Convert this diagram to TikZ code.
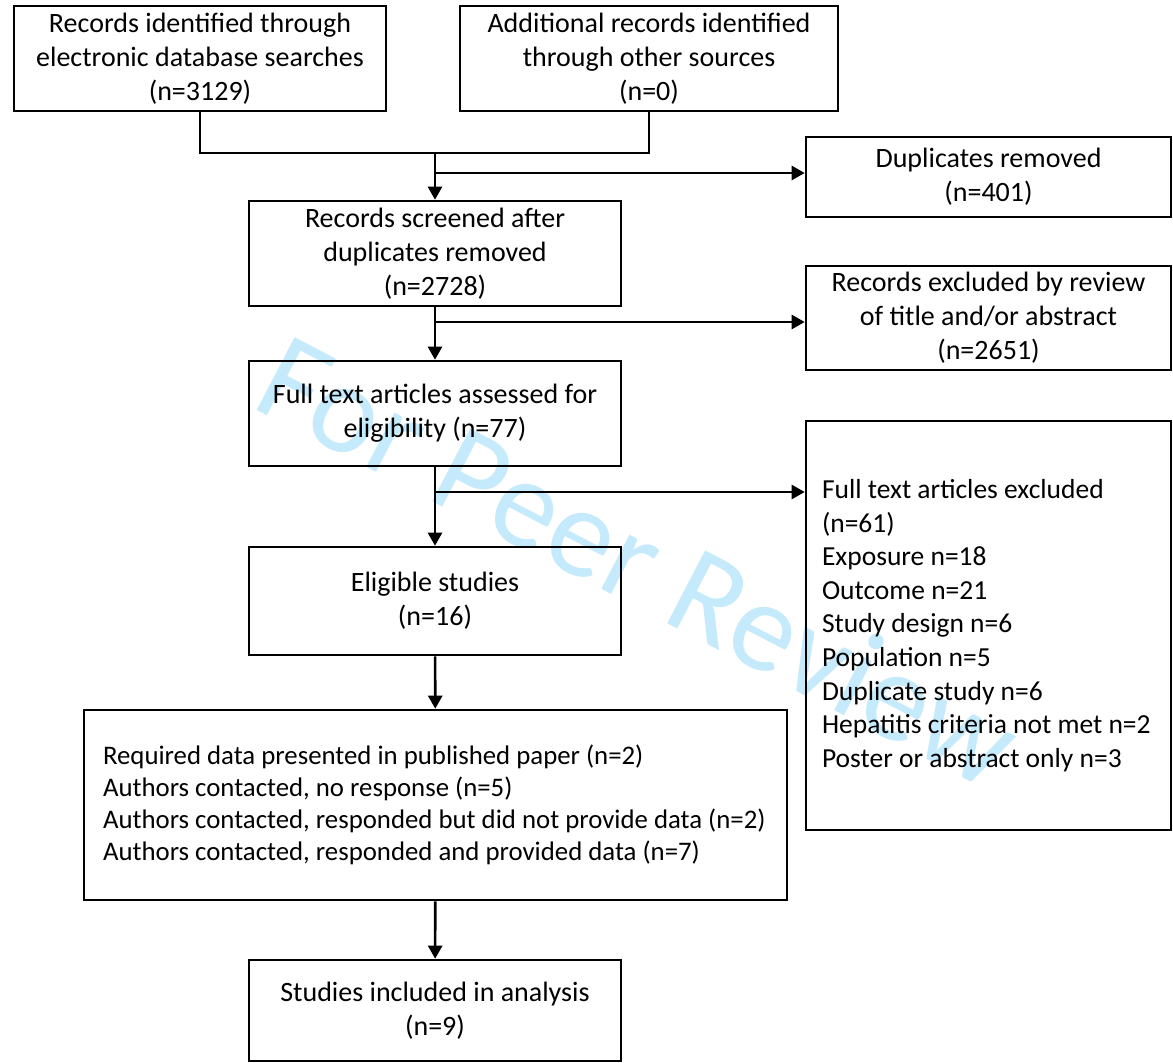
\documentclass[tikz,border=0pt]{standalone}
\usepackage{fontspec}
\setmainfont{Carlito}
\usepackage{tikz}
\usetikzlibrary{arrows.meta}

\definecolor{wmblue}{RGB}{196,234,251}

\begin{document}
\begin{tikzpicture}[x=1pt,y=-1pt,
		line width=2.6pt,
		>={Triangle[length=13pt,width=14pt]},
		box/.style={draw,align=center,font=\fontsize{28}{34}\selectfont,inner sep=0pt},
		listbox/.style={draw,align=flush left,font=\fontsize{27.5}{33.6}\selectfont,inner ysep=0pt}]
		\useasboundingbox (0,0) rectangle (1173,1063);

		\node[anchor=base west,rotate=-27.5,text=wmblue,font=\fontsize{128}{136}\selectfont] (wm) at (245,404) {For Peer Review};

		\node[box,minimum width=372pt,minimum height=105pt] (rec1) at (200,58.5) {Records identified through\\electronic database searches\\(n=3129)};
		\node[box,minimum width=378pt,minimum height=105pt] (rec2) at (649,58.5) {Additional records identified\\through other sources\\(n=0)};
		\node[box,minimum width=365pt,minimum height=80pt] (dup) at (988.5,177) {Duplicates removed\\(n=401)};
		\node[box,minimum width=372pt,minimum height=105pt] (scr) at (435,253.5) {Records screened after\\duplicates removed\\(n=2728)};
		\node[box,minimum width=365pt,minimum height=104pt] (excl) at (988.5,318) {Records excluded by review\\of title and/or abstract\\(n=2651)};
		\node[box,minimum width=372pt,minimum height=105pt] (full) at (435,413.5) {Full text articles assessed for\\eligibility (n=77)};
		\node[listbox,inner xsep=16pt,text width=333pt,minimum height=409pt] (ftex) at (988.5,625.5) {Full text articles excluded\\(n=61)\\Exposure n=18\\Outcome n=21\\Study design n=6\\Population n=5\\Duplicate study n=6\\Hepatitis criteria not met n=2\\Poster or abstract only n=3};
		\node[box,minimum width=372pt,minimum height=108pt] (elig) at (435,601) {Eligible studies\\(n=16)};
		\node[listbox,font=\fontsize{26.8}{32}\selectfont,inner xsep=19pt,text width=665pt,minimum height=190pt] (data) at (435.5,805) {Required data presented in published paper (n=2)\\Authors contacted, no response (n=5)\\Authors contacted, responded but did not provide data (n=2)\\Authors contacted, responded and provided data (n=7)};
		\node[box,minimum width=372pt,minimum height=101pt] (incl) at (435,1010.5) {Studies included in analysis\\(n=9)};

		\coordinate (j1) at (435,153);
		\coordinate (j2) at (435,173);
		\coordinate (j3) at (435,322);
		\coordinate (j4) at (435,492);

		\draw (rec1) -- (rec1.south |- j1) -- (rec2.south |- j1) -- (rec2);
		\draw [->] (j1) -- (scr);
		\draw [->] (j2) -- (j2 -| dup.west);
		\draw [->] (scr) -- (full);
		\draw [->] (j3) -- (j3 -| excl.west);
		\draw [->] (full) -- (elig);
		\draw [->] (j4) -- (j4 -| ftex.west);
		\draw [->] (elig) -- (data);
		\draw [->] (data) -- (incl);
	\end{tikzpicture}
\end{document}
